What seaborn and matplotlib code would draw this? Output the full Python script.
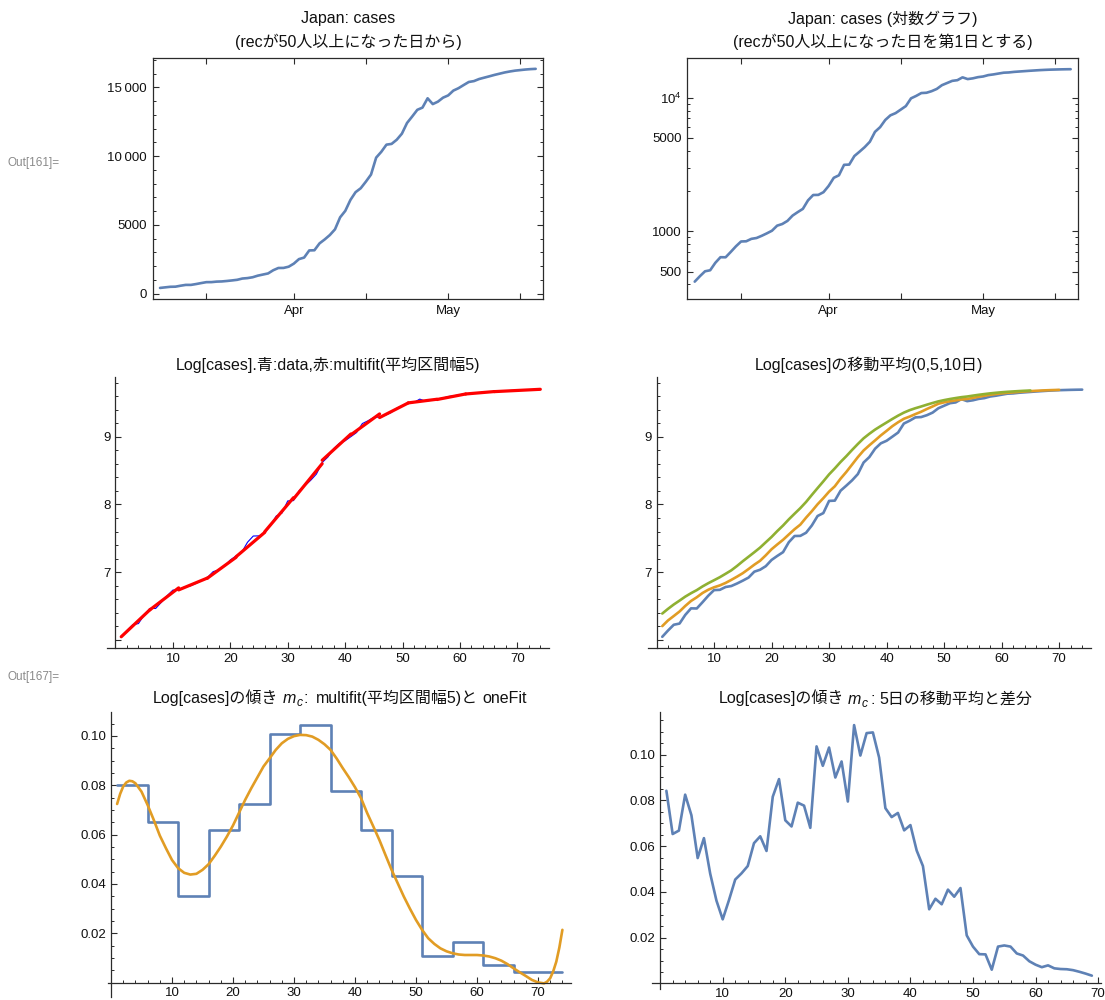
import numpy as np
import pandas as pd
import matplotlib
matplotlib.use("Agg")
import matplotlib.pyplot as plt
import matplotlib.dates as mdates
import matplotlib.ticker as mticker
from matplotlib.transforms import IdentityTransform
import seaborn as sns

sns.set_theme(style="ticks")
FONTS = ["Liberation Sans", "Noto Sans CJK JP", "DejaVu Sans"]
plt.rcParams["font.family"] = FONTS
plt.rcParams["axes.unicode_minus"] = False

# Japan: cumulative cases, day 1 = first day with rec >= 50
first_date = "2020-03-06"
cases = [420, 461, 502, 511, 581, 640, 639, 701, 772, 839,
         842, 878, 891, 925, 965, 1010, 1102, 1134, 1196, 1311,
         1392, 1472, 1705, 1869, 1873, 1962, 2185, 2514, 2625, 3144,
         3157, 3658, 3943, 4264, 4678, 5551, 6019, 6813, 7379, 7663,
         8142, 8657, 9888, 10311, 10831, 10886, 11189, 11628, 12406, 12876,
         13363, 13523, 14200, 13779, 13955, 14246, 14410, 14759, 14934, 15163,
         15385, 15450, 15600, 15700, 15798, 15900, 15990, 16080, 16150, 16210,
         16250, 16290, 16320, 16340]

# slope m_c: day-to-day difference of the 5-day moving average of Log[cases]
slope_5day = [0.0842, 0.0653, 0.0668, 0.0825, 0.0735, 0.0548, 0.0635, 0.0480, 0.0362, 0.0280,
              0.0364, 0.0454, 0.0481, 0.0513, 0.0613, 0.0643, 0.0579, 0.0816, 0.0893, 0.0713,
              0.0686, 0.0790, 0.0777, 0.0680, 0.1036, 0.0951, 0.1031, 0.0900, 0.0970, 0.0795,
              0.1129, 0.0996, 0.1094, 0.1097, 0.0987, 0.0766, 0.0727, 0.0745, 0.0669, 0.0692,
              0.0581, 0.0513, 0.0324, 0.0370, 0.0346, 0.0410, 0.0379, 0.0417, 0.0210, 0.0161,
              0.0128, 0.0127, 0.0060, 0.0161, 0.0166, 0.0161, 0.0131, 0.0122, 0.0097, 0.0082,
              0.0071, 0.0079, 0.0066, 0.0063, 0.0062, 0.0058, 0.0051, 0.0043, 0.0034]

# multifit: piecewise linear fit of Log[cases] (window edges, slope, value at window start)
window_edges = [1, 6, 11, 16, 21, 26, 31, 36, 41, 46, 51, 56, 61, 66, 74]
window_slopes = [0.0801, 0.0650, 0.0351, 0.0619, 0.0723, 0.1007, 0.1045,
                 0.0778, 0.0619, 0.0433, 0.0108, 0.0164, 0.0072, 0.0043]
window_start_log = [6.041, 6.440, 6.735, 6.908, 7.226, 7.597, 8.082,
                    8.655, 9.032, 9.288, 9.505, 9.555, 9.637, 9.672]

# oneFit: single smooth fit of the slope m_c
onefit_day = [1, 1.5, 2, 2.5, 3, 3.5, 4, 5, 6, 7, 8, 9, 10, 11, 12, 13, 14, 15,
              16, 17, 18, 19, 20, 21, 22, 23, 24, 25, 26, 27, 28, 29, 30, 31,
              32, 33, 34, 35, 36, 37, 38, 39, 40, 41, 42, 43, 44, 45, 46, 47,
              48, 49, 50, 51, 52, 53, 54, 55, 56, 57, 58, 59, 60, 61, 62, 63,
              64, 65, 66, 67, 68, 69, 70, 71, 71.5, 72, 72.5, 73, 73.5, 74]
onefit_slope = [0.0724, 0.0765, 0.0795, 0.0811, 0.0818, 0.0816, 0.0808, 0.0774,
                0.0720, 0.0660, 0.0596, 0.0545, 0.0497, 0.0464, 0.0445, 0.0438,
                0.0441, 0.0457, 0.0480, 0.0514, 0.0551, 0.0592, 0.0637, 0.0689,
                0.0741, 0.0788, 0.0832, 0.0876, 0.0909, 0.0943, 0.0970, 0.0988,
                0.0999, 0.1004, 0.1003, 0.0997, 0.0984, 0.0966, 0.0943, 0.0908,
                0.0869, 0.0832, 0.0792, 0.0747, 0.0687, 0.0633, 0.0578, 0.0517,
                0.0457, 0.0403, 0.0349, 0.0300, 0.0254, 0.0214, 0.0180, 0.0157,
                0.0139, 0.0127, 0.0119, 0.0114, 0.0112, 0.0112, 0.0112, 0.0110,
                0.0106, 0.0099, 0.0089, 0.0075, 0.0058, 0.0042, 0.0027, 0.0011,
                0.0001, -0.0003, 0.0004, 0.0018, 0.0046, 0.0085, 0.0142, 0.0214]

BLUE = "#5E81B5"
ORANGE = "#E19C24"
GREEN = "#8FB032"
AXIS = "#2b2b2b"
TEXT = "#111111"
TITLE_SIZE = 11.5
TICK_SIZE = 9.5

df = pd.DataFrame({"day": np.arange(1, len(cases) + 1), "cases": cases})
df["date"] = pd.Timestamp(first_date) + pd.to_timedelta(df["day"] - 1, unit="D")
df["log"] = np.log(df["cases"])

ma5 = df["log"].rolling(5).mean().iloc[4:].to_numpy()
ma10 = df["log"].rolling(10).mean().iloc[9:].to_numpy()
df_ma5 = pd.DataFrame({"day": np.arange(1, len(ma5) + 1), "v": ma5})
df_ma10 = pd.DataFrame({"day": np.arange(1, len(ma10) + 1), "v": ma10})
df_slope = pd.DataFrame({"day": np.arange(1, len(slope_5day) + 1), "v": slope_5day})

W, H = 1105, 1000
fig = plt.figure(figsize=(W / 100, H / 100), dpi=100)


def add_ax(left, right, top, bottom):
    return fig.add_axes([left / W, 1 - bottom / H, (right - left) / W, (bottom - top) / H])


def style_frame(ax):
    for sp in ax.spines.values():
        sp.set_visible(True)
        sp.set_color(AXIS)
        sp.set_linewidth(0.9)
    ax.tick_params(which="both", direction="in", top=True, right=True, bottom=True, left=True,
                   labeltop=False, labelright=False, color=AXIS, labelsize=TICK_SIZE,
                   labelcolor=TEXT, pad=4)
    ax.tick_params(which="major", length=4.5, width=0.8)
    ax.tick_params(which="minor", length=2.5, width=0.7)
    ax.set_xlabel("")
    ax.set_ylabel("")


def style_axes(ax, x0, y0):
    ax.spines["top"].set_visible(False)
    ax.spines["right"].set_visible(False)
    ax.spines["left"].set_position(("data", x0))
    ax.spines["bottom"].set_position(("data", y0))
    for k in ("left", "bottom"):
        ax.spines[k].set_color(AXIS)
        ax.spines[k].set_linewidth(0.9)
    ax.tick_params(which="both", direction="in", bottom=True, left=True, top=False, right=False,
                   color=AXIS, labelsize=TICK_SIZE, labelcolor=TEXT, pad=3.5)
    ax.tick_params(which="major", length=4.5, width=0.8)
    ax.tick_params(which="minor", length=2.5, width=0.7)
    ax.set_xlabel("")
    ax.set_ylabel("")


def x_day_ticks(ax, last):
    ax.xaxis.set_major_locator(mticker.FixedLocator([10, 20, 30, 40, 50, 60, 70]))
    ax.xaxis.set_minor_locator(mticker.FixedLocator([d for d in range(2, last + 1, 2) if d % 10]))


def title_center(xc, yc, text):
    fig.text(xc / W, 1 - yc / H, text, ha="center", va="center", fontsize=TITLE_SIZE, color=TEXT)


def rich_title(xc, y_base, parts, size=TITLE_SIZE):
    """Title built from pieces; dy > 0 moves a piece down (subscript)."""
    renderer = fig.canvas.get_renderer()
    items, total = [], 0.0
    for text, style, gap, dy, scale in parts:
        t = fig.text(0, 0, text, transform=IdentityTransform(), fontsize=size * scale,
                     fontstyle=style, ha="left", va="baseline", color=TEXT)
        w = t.get_window_extent(renderer).width
        items.append((t, gap, dy, w))
        total += gap + w
    x = xc - total / 2
    for t, gap, dy, w in items:
        x += gap
        t.set_position((x, H - (y_base + dy)))
        x += w


date_pad = pd.Timedelta(days=1.46)
date_lim = (mdates.date2num(df["date"].iloc[0] - date_pad), mdates.date2num(df["date"].iloc[-1] + date_pad))
date_ticks = mdates.date2num(pd.to_datetime(["2020-03-15", "2020-04-01", "2020-04-15", "2020-05-01", "2020-05-15"]))
date_labels = ["", "Apr", "", "May", ""]

# --- cases, linear scale
ax1 = add_ax(152.5, 543.2, 57.7, 299)
sns.lineplot(data=df, x="date", y="cases", ax=ax1, color=BLUE, linewidth=1.9)
ax1.set_xlim(*date_lim)
ax1.set_ylim(-385, 17150)
ax1.xaxis.set_major_locator(mticker.FixedLocator(date_ticks))
ax1.xaxis.set_major_formatter(mticker.FixedFormatter(date_labels))
ax1.yaxis.set_major_locator(mticker.FixedLocator([0, 5000, 10000, 15000]))
ax1.yaxis.set_major_formatter(mticker.FixedFormatter(["0", "5000", "10\u2009000", "15\u2009000"]))
ax1.yaxis.set_minor_locator(mticker.FixedLocator([v for v in range(1000, 17001, 1000) if v % 5000]))
style_frame(ax1)
title_center(347.9, 18.5, "Japan: cases")
title_center(347.9, 42, "(recが50人以上になった日から)")

# --- cases, log scale
ax2 = add_ax(687.2, 1078.2, 57.7, 299)
sns.lineplot(data=df, x="date", y="cases", ax=ax2, color=BLUE, linewidth=1.9)
ax2.set_yscale("log")
ax2.set_xlim(*date_lim)
ax2.set_ylim(311.4, 19920)
ax2.xaxis.set_major_locator(mticker.FixedLocator(date_ticks))
ax2.xaxis.set_major_formatter(mticker.FixedFormatter(date_labels))
ax2.yaxis.set_major_locator(mticker.FixedLocator([500, 1000, 5000, 10000]))
ax2.yaxis.set_major_formatter(mticker.FixedFormatter(["500", "1000", "5000", r"$\mathregular{10^{4}}$"]))
ax2.yaxis.set_minor_locator(mticker.FixedLocator([400, 600, 700, 800, 900, 2000, 3000, 4000,
                                                   6000, 7000, 8000, 9000]))
ax2.yaxis.set_minor_formatter(mticker.NullFormatter())
style_frame(ax2)
title_center(882.7, 18.5, "Japan: cases (対数グラフ)")
title_center(882.7, 42, "(recが50人以上になった日を第1日とする)")

log_major = [6, 7, 8, 9]
log_labels = ["", "7", "8", "9"]
log_minor = [round(v, 1) for v in np.arange(5.8, 9.85, 0.2) if abs(v - round(v)) > 0.05]

# --- Log[cases] with multifit segments
ax3 = add_ax(107.0, 548.8, 376.7, 648.3)
sns.lineplot(data=df, x="day", y="log", ax=ax3, color="#0000FF", linewidth=0.8)
for a, b, s, y0 in zip(window_edges[:-1], window_edges[1:], window_slopes, window_start_log):
    ax3.plot([a, b], [y0, y0 + s * (b - a)], color="#FF0000", linewidth=2.3, solid_capstyle="round")
ax3.set_xlim(-1.48, 75.48)
ax3.set_ylim(5.87, 9.893)
x_day_ticks(ax3, 74)
ax3.yaxis.set_major_locator(mticker.FixedLocator(log_major))
ax3.yaxis.set_major_formatter(mticker.FixedFormatter(log_labels))
ax3.yaxis.set_minor_locator(mticker.FixedLocator(log_minor))
style_axes(ax3, 0, 5.87)
title_center(328, 364.5, "Log[cases].青:data,赤:multifit(平均区間幅5)")

# --- Log[cases] moving averages
ax4 = add_ax(648.0, 1090.7, 376.7, 648.3)
sns.lineplot(data=df, x="day", y="log", ax=ax4, color=BLUE, linewidth=1.9)
sns.lineplot(data=df_ma5, x="day", y="v", ax=ax4, color=ORANGE, linewidth=1.9)
sns.lineplot(data=df_ma10, x="day", y="v", ax=ax4, color=GREEN, linewidth=1.9)
ax4.set_xlim(-1.48, 75.48)
ax4.set_ylim(5.87, 9.893)
x_day_ticks(ax4, 74)
ax4.yaxis.set_major_locator(mticker.FixedLocator(log_major))
ax4.yaxis.set_major_formatter(mticker.FixedFormatter(log_labels))
ax4.yaxis.set_minor_locator(mticker.FixedLocator(log_minor))
style_axes(ax4, 0, 5.87)
title_center(869.3, 365, "Log[cases]の移動平均(0,5,10日)")

slope_major = [0.02, 0.04, 0.06, 0.08, 0.10]
slope_labels = ["0.02", "0.04", "0.06", "0.08", "0.10"]

# --- slope: multifit steps and oneFit
ax5 = add_ax(108.2, 571.3, 711.7, 996.7)
step_y = window_slopes + [window_slopes[-1]]
ax5.plot(window_edges, step_y, drawstyle="steps-post", color=BLUE, linewidth=1.9)
sns.lineplot(x=onefit_day, y=onefit_slope, ax=ax5, color=ORANGE, linewidth=1.9)
ax5.set_xlim(-0.46, 75.46)
ax5.set_ylim(-0.0057, 0.1098)
x_day_ticks(ax5, 74)
ax5.yaxis.set_major_locator(mticker.FixedLocator(slope_major))
ax5.yaxis.set_major_formatter(mticker.FixedFormatter(slope_labels))
ax5.yaxis.set_minor_locator(mticker.FixedLocator([0.005, 0.01, 0.015, 0.025, 0.03, 0.035, 0.045,
                                                   0.05, 0.055, 0.065, 0.07, 0.075, 0.085, 0.09,
                                                   0.095, 0.105]))
style_axes(ax5, 0, 0)
rich_title(339.8, 703, [("Log[cases]の傾き", "normal", 0, 0, 1.0),
                        ("m", "italic", 4, 0, 1.0),
                        ("c", "italic", 0.5, 3.5, 0.75),
                        (":", "normal", 1.5, 0, 1.0),
                        ("multifit(平均区間幅5)と", "normal", 8, 0, 1.0),
                        ("oneFit", "normal", 4, 0, 1.0)])

# --- slope: difference of the 5-day moving average
ax6 = add_ax(651.5, 1100.5, 711.6, 988.7)
sns.lineplot(data=df_slope, x="day", y="v", ax=ax6, color=BLUE, linewidth=1.9)
ax6.set_xlim(-1.38, 70.38)
ax6.set_ylim(-0.0023, 0.1188)
x_day_ticks(ax6, 70)
ax6.yaxis.set_major_locator(mticker.FixedLocator(slope_major))
ax6.yaxis.set_major_formatter(mticker.FixedFormatter(slope_labels))
ax6.yaxis.set_minor_locator(mticker.FixedLocator([0.005, 0.01, 0.015, 0.025, 0.03, 0.035, 0.045,
                                                   0.05, 0.055, 0.065, 0.07, 0.075, 0.085, 0.09,
                                                   0.095, 0.105, 0.11, 0.115]))
style_axes(ax6, 0, 0)
rich_title(875.5, 703.5, [("Log[cases]の傾き", "normal", 0, 0, 1.0),
                          ("m", "italic", 4, 0, 1.0),
                          ("c", "italic", 0.5, 3.5, 0.75),
                          (":", "normal", 3, 0, 1.0),
                          ("5日の移動平均と差分", "normal", 4, 0, 1.0)])

for yc, label in ((163, "Out[161]="), (677, "Out[167]=")):
    fig.text(8 / W, 1 - yc / H, label, ha="left", va="center", fontsize=8.5, color="#8a8a8a")

fig.savefig("out.png", dpi=100)
